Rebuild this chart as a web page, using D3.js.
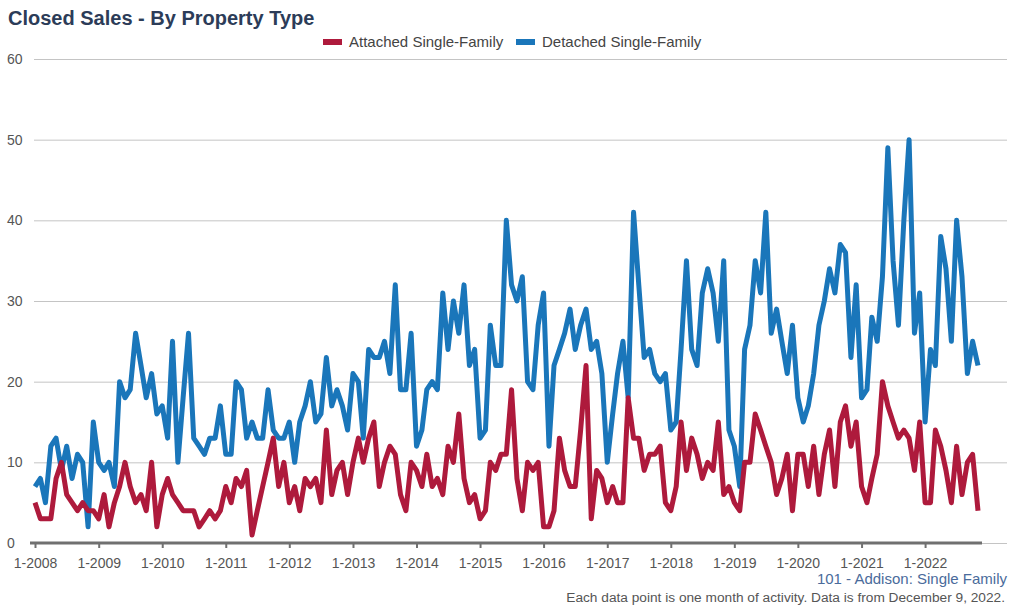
<!DOCTYPE html>
<html>
<head>
<meta charset="utf-8">
<script src="https://cdn.jsdelivr.net/npm/d3@7"></script>
<style>
  body { margin: 0; background: #fff; font-family: "Liberation Sans", Arial, sans-serif; }
  .grid line { stroke: #c4c4c4; }
  .grid path { display: none; }
  .x-axis path { stroke: #707070; stroke-width: 3; }
  .x-axis line { stroke: #707070; stroke-width: 2; }
  .x-axis text, .y-axis text { fill: #555; font-size: 14px; font-family: "Liberation Sans", Arial, sans-serif; }
</style>
</head>
<body>
<div id="chart"></div>
<script>
// First month of the series and the labels on the x axis
const startMonth = "2008-01";
const yearTicks = ["1-2008", "1-2009", "1-2010", "1-2011", "1-2012", "1-2013", "1-2014",
  "1-2015", "1-2016", "1-2017", "1-2018", "1-2019", "1-2020", "1-2021", "1-2022"];
const yTicks = [0, 10, 20, 30, 40, 50, 60];

// Monthly closed sales, Jan 2008 .. Nov 2022
const attached = [
  5, 3, 3, 3, 8, 10, 6, 5, 4, 5, 4, 4,
  3, 6, 2, 5, 7, 10, 7, 5, 6, 4, 10, 2,
  6, 8, 6, 5, 4, 4, 4, 2, 3, 4, 3, 4,
  7, 5, 8, 7, 9, 1, 4, 7, 10, 13, 7, 10,
  5, 7, 4, 8, 7, 8, 5, 14, 6, 9, 10, 6,
  10, 13, 10, 13, 15, 7, 10, 12, 11, 6, 4, 10,
  9, 7, 11, 7, 8, 6, 12, 10, 16, 8, 5, 6,
  3, 4, 10, 9, 11, 11, 19, 8, 4, 10, 9, 10,
  2, 2, 4, 13, 9, 7, 7, 14, 22, 3, 9, 8,
  5, 7, 5, 5, 18, 13, 13, 9, 11, 11, 12, 5,
  4, 7, 15, 9, 13, 11, 8, 10, 9, 15, 6, 7,
  5, 4, 10, 10, 16, 14, 12, 10, 6, 8, 11, 4,
  11, 11, 7, 12, 6, 11, 14, 7, 15, 17, 12, 15,
  7, 5, 8, 11, 20, 17, 15, 13, 14, 13, 9, 15,
  5, 5, 14, 12, 9, 5, 12, 6, 10, 11, 4
];
const detached = [
  7, 8, 5, 12, 13, 9, 12, 8, 11, 10, 2, 15,
  10, 9, 10, 7, 20, 18, 19, 26, 22, 18, 21, 16,
  17, 13, 25, 10, 18, 26, 13, 12, 11, 13, 13, 17,
  11, 11, 20, 19, 13, 15, 13, 13, 19, 14, 13, 13,
  15, 10, 15, 17, 20, 15, 16, 23, 17, 19, 17, 14,
  21, 20, 13, 24, 23, 23, 25, 21, 32, 19, 19, 26,
  12, 14, 19, 20, 19, 31, 24, 30, 26, 32, 22, 24,
  13, 14, 27, 22, 22, 40, 32, 30, 33, 20, 19, 27,
  31, 12, 22, 24, 26, 29, 24, 27, 29, 24, 25, 21,
  10, 16, 21, 25, 18, 41, 32, 23, 24, 21, 20, 21,
  14, 15, 24, 35, 24, 22, 31, 34, 31, 25, 35, 14,
  12, 7, 24, 27, 35, 31, 41, 26, 29, 25, 21, 27,
  18, 15, 17, 21, 27, 30, 34, 31, 37, 36, 23, 32,
  18, 19, 28, 25, 33, 49, 35, 27, 40, 50, 26, 31,
  15, 24, 22, 38, 34, 25, 40, 33, 21, 25, 22
];

const W = 1015, H = 610;
const margin = { top: 59, right: 37, bottom: 67, left: 35 };

const svg = d3.select("#chart").append("svg")
  .attr("width", W).attr("height", H);

const parse = d3.timeParse("%Y-%m");
const t0 = parse(startMonth);
const dates = attached.map((d, i) => d3.timeMonth.offset(t0, i));

const x = d3.scaleTime()
  .domain([t0, dates[dates.length - 1]])
  .range([margin.left, W - margin.right]);

const y = d3.scaleLinear()
  .domain([0, 60])
  .range([H - margin.bottom, margin.top]);

// horizontal gridlines
svg.append("g")
  .attr("class", "grid")
  .attr("transform", `translate(${margin.left - 1},0)`)
  .call(d3.axisRight(y).tickValues(yTicks).tickSize(W - 7 - margin.left).tickFormat(""));

// y labels sit at the left edge
svg.append("g")
  .attr("class", "y-axis")
  .selectAll("text")
  .data(yTicks)
  .join("text")
  .attr("x", 7)
  .attr("y", d => y(d) + 5)
  .text(d => d);

// x axis
const tickDates = yearTicks.map(s => {
  const [m, yr] = s.split("-");
  return new Date(+yr, +m - 1, 1);
});
svg.append("g")
  .attr("class", "x-axis")
  .attr("transform", `translate(0,${H - margin.bottom})`)
  .call(d3.axisBottom(x).tickValues(tickDates).tickSize(5).tickSizeOuter(0)
    .tickFormat((d, i) => yearTicks[i]))
  .call(g => g.select(".domain").attr("d", `M${margin.left - 5},0H${x(dates[dates.length - 1]) + 4}`))
  .call(g => g.selectAll("text").attr("dy", "1.2em"));

// lines
const line = series => d3.line()
  .x((d, i) => x(dates[i]))
  .y(d => y(d))(series);

svg.append("path")
  .attr("d", line(detached))
  .attr("fill", "none")
  .attr("stroke", "#1a76ba")
  .attr("stroke-width", 5)
  .attr("stroke-linejoin", "round");

svg.append("path")
  .attr("d", line(attached))
  .attr("fill", "none")
  .attr("stroke", "#ae1a3c")
  .attr("stroke-width", 5)
  .attr("stroke-linejoin", "round");

// title
svg.append("text")
  .attr("x", 8).attr("y", 25)
  .attr("fill", "#2c3c58")
  .style("font-size", "20px")
  .style("font-weight", "bold")
  .text("Closed Sales - By Property Type");

// legend
const legend = [
  { name: "Attached Single-Family", color: "#ae1a3c", x: 323 },
  { name: "Detached Single-Family", color: "#1a76ba", x: 516 }
];
const lg = svg.append("g").selectAll("g").data(legend).join("g")
  .attr("transform", d => `translate(${d.x},42)`);
lg.append("rect").attr("x", 0).attr("y", -3).attr("width", 19).attr("height", 6)
  .attr("fill", d => d.color);
lg.append("text").attr("x", 26).attr("y", 5)
  .attr("fill", "#444").style("font-size", "15px")
  .text(d => d.name);

// footer
svg.append("text")
  .attr("x", 1007).attr("y", 584)
  .attr("text-anchor", "end")
  .attr("fill", "#4a6b9b")
  .style("font-size", "15px")
  .text("101 - Addison: Single Family");

svg.append("text")
  .attr("x", 1005).attr("y", 602)
  .attr("text-anchor", "end")
  .attr("fill", "#555")
  .style("font-size", "13.7px")
  .text("Each data point is one month of activity. Data is from December 9, 2022.");
</script>
</body>
</html>
